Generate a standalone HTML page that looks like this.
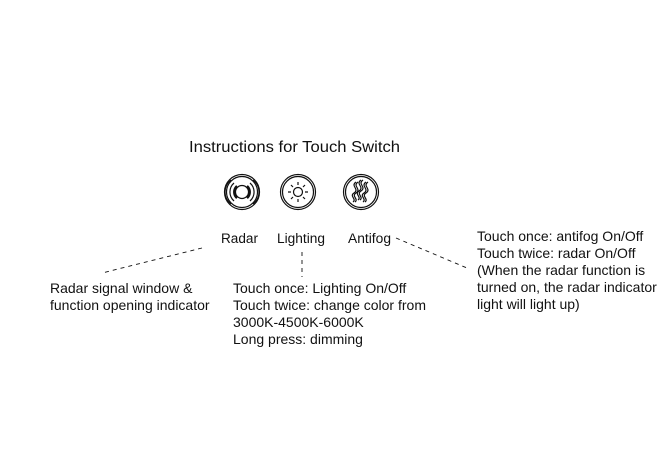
<!DOCTYPE html>
<html><head><meta charset="utf-8"><style>
html,body{margin:0;padding:0;background:#fff;}
svg{display:block;}
text{font-family:"Liberation Sans",Arial,sans-serif;fill:#111;}
</style></head><body>
<svg width="670" height="474" viewBox="0 0 670 474" xmlns="http://www.w3.org/2000/svg">
<text x="189" y="152" font-size="15.5" textLength="211" lengthAdjust="spacingAndGlyphs">Instructions for Touch Switch</text>
<g fill="none" stroke="#111" stroke-width="1.2">
 <!-- radar -->
 <circle cx="242" cy="192" r="17.5"/><circle cx="242" cy="192" r="15.5"/>
 <circle cx="242" cy="192" r="6.5"/>
 <path d="M234 183 A12 12 0 0 0 234 201 M250 183 A12 12 0 0 1 250 201"/>
 <path d="M237 186 A8 8 0 0 0 237 198 M247 186 A8 8 0 0 1 247 198" stroke-width="2.5"/>
 <path d="M231 180 A15 15 0 0 0 231 204 M253 180 A15 15 0 0 1 253 204"/>
 <!-- lighting -->
 <circle cx="298" cy="192" r="17.5"/><circle cx="298" cy="192" r="15.5"/>
 <circle cx="298" cy="192" r="4.5"/>
 <path d="M298 182v3 M298 199v3 M288 192h3 M305 192h3 M291 185l2 2 M303 197l2 2 M305 185l-2 2 M291 199l2-2"/>
 <!-- antifog -->
 <circle cx="361" cy="192" r="17.5"/><circle cx="361" cy="192" r="15.5"/>
 <path d="M356 182c-6 4 4 7-2 11c-5 3 3 6-1 9 M361 180c-6 4 4 7-2 11c-5 3 3 6-1 9 M366 182c-6 4 4 7-2 11c-5 3 3 6-1 9"/>
 <path d="M358 182c-6 4 4 7-2 11c-5 3 3 6-1 9 M363 180c-6 4 4 7-2 11c-5 3 3 6-1 9 M368 182c-6 4 4 7-2 11c-5 3 3 6-1 9"/>
</g>
<g font-size="13.5">
<text x="221" y="243" textLength="37" lengthAdjust="spacingAndGlyphs">Radar</text>
<text x="277" y="243" textLength="48" lengthAdjust="spacingAndGlyphs">Lighting</text>
<text x="348" y="243" textLength="43" lengthAdjust="spacingAndGlyphs">Antifog</text>
</g>
<g stroke="#111" stroke-width="0.9" stroke-dasharray="4,4" fill="none">
 <line x1="202" y1="248" x2="102" y2="273"/>
 <line x1="302" y1="252" x2="302" y2="277"/>
 <line x1="396" y1="238" x2="467" y2="268"/>
</g>
<g font-size="14">
 <text x="50" y="293">Radar signal window &amp;</text>
 <text x="50" y="310">function opening indicator</text>
 <text x="233" y="293">Touch once: Lighting On/Off</text>
 <text x="233" y="310">Touch twice:  change color from</text>
 <text x="233" y="327">3000K-4500K-6000K</text>
 <text x="233" y="344">Long press: dimming</text>
 <text x="477" y="241">Touch once: antifog On/Off</text>
 <text x="477" y="258">Touch twice: radar On/Off</text>
 <text x="477" y="275">(When the radar function is</text>
 <text x="477" y="292">turned on, the radar indicator</text>
 <text x="477" y="309">light will light up)</text>
</g>
</svg>
</body></html>
